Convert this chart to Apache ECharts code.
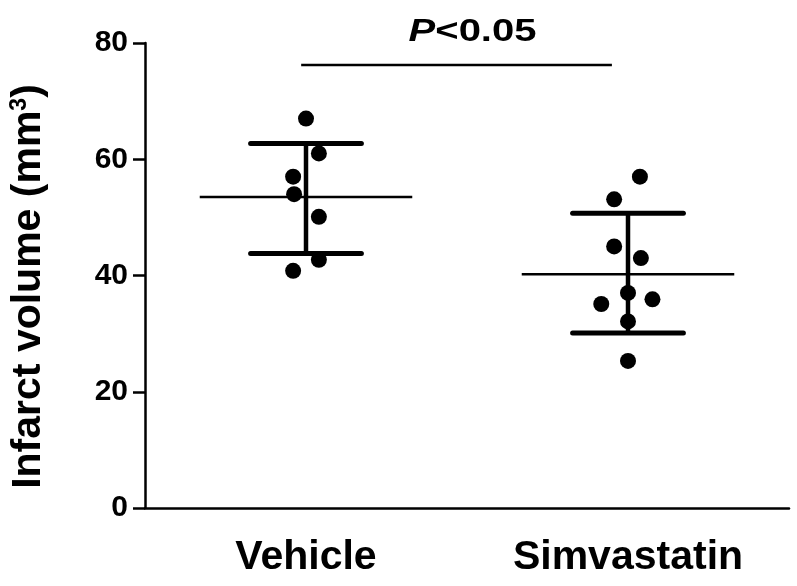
<!DOCTYPE html>
<html>
<head>
<meta charset="utf-8">
<script src="https://cdn.jsdelivr.net/npm/echarts@6/dist/echarts.min.js"></script>
<style>
  html, body { margin: 0; padding: 0; background: #fff; }
  #main { width: 797px; height: 586px; }
</style>
</head>
<body>
<div id="main"></div>
<script>
// groups on the x axis
const categories = ['Vehicle', 'Simvastatin'];
// individual animals (mm3)
const vehicleValues = [67.0, 61.0, 57.0, 54.0, 50.1, 42.7, 40.8];
const simvaValues = [57.0, 53.1, 45.0, 43.0, 37.0, 35.1, 35.9, 32.1, 25.3];
// horizontal scatter offsets, in category widths
const vehicleJitter = [0, 0.04, -0.04, -0.037, 0.04, 0.04, -0.04];
const simvaJitter = [0.037, -0.043, -0.043, 0.04, 0, -0.083, 0.076, 0, 0];
// mean and SD bounds per group
const means = [53.5, 40.2];
const sdUpper = [62.7, 50.7];
const sdLower = [43.8, 30.1];
// y axis ticks
const yTicks = [0, 20, 40, 60, 80];
// significance bracket
const sigLabel = 'P<0.05';
const sigBar = [[-0.015, 0.95, 76.2]];

const FONT = 'Arial, "Liberation Sans", sans-serif';

const scatterData = [];
vehicleValues.forEach((v, i) => scatterData.push([0 + vehicleJitter[i], v]));
simvaValues.forEach((v, i) => scatterData.push([1 + simvaJitter[i], v]));

const barData = categories.map((c, i) => [i, means[i], sdLower[i], sdUpper[i]]);

const chart = echarts.init(document.getElementById('main'));

chart.setOption({
    animation: false,
    backgroundColor: '#fff',
    grid: { left: 142, right: 8, top: 43, bottom: 78 },
    xAxis: [{
        type: 'category',
        data: categories,
        boundaryGap: true,
        axisLine: { lineStyle: { color: '#000', width: 2.5 } },
        axisTick: { alignWithLabel: true, length: 11, lineStyle: { color: '#000', width: 2.5 } },
        axisLabel: { color: '#000', fontFamily: FONT, fontWeight: 'bold', fontSize: 41, margin: 29 },
        splitLine: { show: false }
    }, {
        type: 'value',
        min: -0.5,
        max: 1.5,
        show: false
    }],
    yAxis: {
        type: 'value',
        min: yTicks[0],
        max: yTicks[yTicks.length - 1],
        interval: 20,
        axisLine: { show: true, onZero: false, lineStyle: { color: '#000', width: 2.5 } },
        axisTick: { show: true, length: 12, lineStyle: { color: '#000', width: 2.5 } },
        axisLabel: { color: '#000', fontFamily: FONT, fontWeight: 'bold', fontSize: 30, margin: 17 },
        splitLine: { show: false },
        name: '{a|Infarct volume (mm}{s|3}{a|)}',
        nameLocation: 'middle',
        nameRotate: 90,
        nameGap: 96,
        nameTextStyle: {
            padding: [0, 22, 0, 0],
            rich: {
                a: { fontFamily: FONT, fontWeight: 'bold', fontSize: 41, color: '#000' },
                s: { fontFamily: FONT, fontWeight: 'bold', fontSize: 23, color: '#000', verticalAlign: 'top', padding: [0, 0, 18, 0] }
            }
        }
    },
    series: [{
        // mean line + SD whiskers
        type: 'custom',
        xAxisIndex: 0,
        data: barData,
        renderItem(params, api) {
            const mid = api.coord([api.value(0), api.value(1)]);
            const lo = api.coord([api.value(0), api.value(2)]);
            const hi = api.coord([api.value(0), api.value(3)]);
            const band = api.size([1, 0])[0];
            const mw = band * 0.33;
            const cw = band * 0.172;
            const st = { stroke: '#000', lineWidth: 5, lineCap: 'round' };
            return {
                type: 'group',
                children: [
                    { type: 'line', shape: { x1: mid[0] - mw, y1: mid[1], x2: mid[0] + mw, y2: mid[1] }, style: { stroke: '#000', lineWidth: 2.5 } },
                    { type: 'line', shape: { x1: mid[0], y1: lo[1], x2: mid[0], y2: hi[1] }, style: { stroke: '#000', lineWidth: 4.5 } },
                    { type: 'line', shape: { x1: mid[0] - cw, y1: hi[1], x2: mid[0] + cw, y2: hi[1] }, style: st },
                    { type: 'line', shape: { x1: mid[0] - cw, y1: lo[1], x2: mid[0] + cw, y2: lo[1] }, style: st }
                ]
            };
        },
        z: 2
    }, {
        type: 'scatter',
        xAxisIndex: 1,
        data: scatterData,
        symbol: 'circle',
        symbolSize: 16,
        itemStyle: { color: '#000', opacity: 1 },
        z: 3
    }, {
        // significance bar and label
        type: 'custom',
        xAxisIndex: 1,
        data: sigBar,
        renderItem(params, api) {
            const a = api.coord([api.value(0), api.value(2)]);
            const b = api.coord([api.value(1), api.value(2)]);
            return {
                type: 'group',
                children: [
                    { type: 'line', shape: { x1: a[0], y1: a[1], x2: b[0], y2: b[1] }, style: { stroke: '#000', lineWidth: 2.5 } },
                    {
                        type: 'text',
                        x: (a[0] + b[0]) / 2 + 16,
                        y: a[1] - 33,
                        scaleX: 1.25,
                        style: {
                            text: '{p|P}{r|' + sigLabel.slice(1) + '}',
                            align: 'center',
                            verticalAlign: 'middle',
                            rich: {
                                p: { fontFamily: FONT, fontWeight: 'bold', fontStyle: 'italic', fontSize: 32, fill: '#000' },
                                r: { fontFamily: FONT, fontWeight: 'bold', fontSize: 32, fill: '#000' }
                            }
                        }
                    }
                ]
            };
        },
        z: 2
    }]
});
</script>
</body>
</html>
